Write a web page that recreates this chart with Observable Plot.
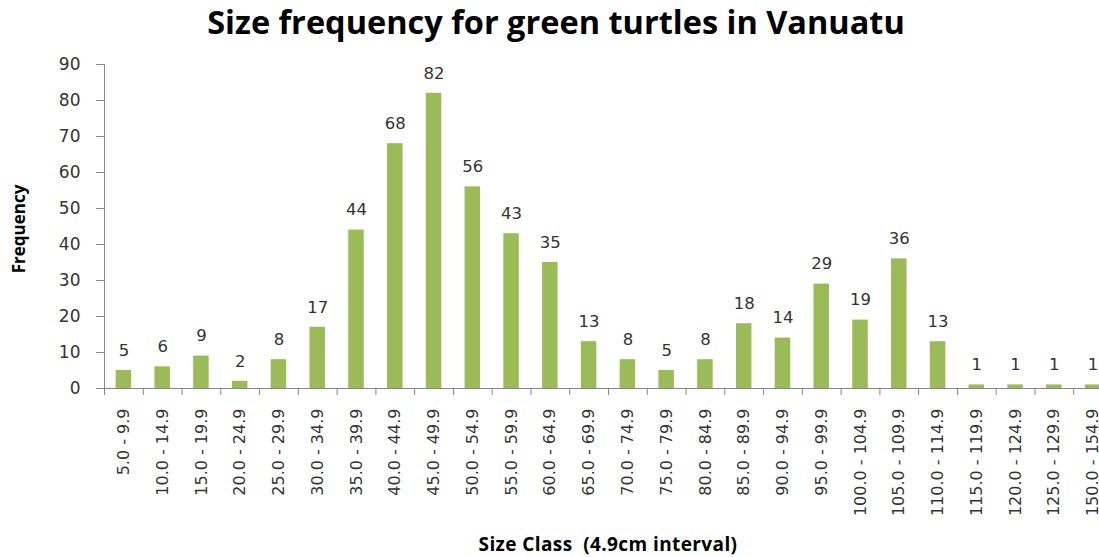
<!DOCTYPE html>
<html>
<head>
<meta charset="utf-8">
<script src="https://cdn.jsdelivr.net/npm/d3@7"></script>
<script src="https://cdn.jsdelivr.net/npm/@observablehq/plot@0.6"></script>
<style>
  html, body { margin: 0; padding: 0; background: #fff; overflow: hidden; }
  #wrap { position: relative; width: 1099px; height: 557px; overflow: hidden; }
  #chart svg { max-width: none !important; width: 1117px; height: 557px; display: block; }
  #title { position: absolute; left: 556px; top: 6px; transform: translateX(-50%); line-height: 1;
    font-family: "Open Sans", sans-serif; font-weight: bold; font-size: 32.5px; color: #000; white-space: nowrap; }
  #ytitle { position: absolute; left: 18px; top: 229px; transform: translate(-50%, -50%) rotate(-90deg);
    font-family: "Open Sans", sans-serif; font-weight: bold; font-size: 17px; color: #000; white-space: nowrap; line-height: 1; }
  #xtitle { position: absolute; left: 608px; top: 535px; transform: translateX(-50%); line-height: 1;
    font-family: "Open Sans", sans-serif; font-weight: bold; font-size: 19px; letter-spacing: 0.4px; color: #000; white-space: pre; }
</style>
</head>
<body>
<div id="wrap">
  <div id="chart"></div>
  <div id="title">Size frequency for green turtles in Vanuatu</div>
  <div id="ytitle">Frequency</div>
  <div id="xtitle">Size Class  (4.9cm interval)</div>
</div>
<script>
const categories = ["5.0 - 9.9","10.0 - 14.9","15.0 - 19.9","20.0 - 24.9","25.0 - 29.9","30.0 - 34.9",
  "35.0 - 39.9","40.0 - 44.9","45.0 - 49.9","50.0 - 54.9","55.0 - 59.9","60.0 - 64.9","65.0 - 69.9",
  "70.0 - 74.9","75.0 - 79.9","80.0 - 84.9","85.0 - 89.9","90.0 - 94.9","95.0 - 99.9","100.0 - 104.9",
  "105.0 - 109.9","110.0 - 114.9","115.0 - 119.9","120.0 - 124.9","125.0 - 129.9","150.0 - 154.9"];
const frequencies = [5,6,9,2,8,17,44,68,82,56,43,35,13,8,5,8,18,14,29,19,36,13,1,1,1,1];
const yTicks = [0,10,20,30,40,50,60,70,80,90];

const data = categories.map((c, i) => ({size: c, freq: frequencies[i]}));
const W = 1117;
const marginLeft = 104, marginRight = 5;
const step = (W - marginLeft - marginRight) / categories.length;
const axisColor = "#868686";
const textColor = "#333";

const chart = Plot.plot({
  width: W,
  height: 557,
  marginTop: 64,
  marginBottom: 169,
  marginLeft,
  marginRight,
  style: {fontFamily: "DejaVu Sans, sans-serif", color: textColor, background: "#fff"},
  x: {domain: categories, paddingInner: 0.6, paddingOuter: 0.3, round: false, label: null},
  y: {domain: [0, 90], label: null},
  marks: [
    Plot.barY(data, {x: "size", y: "freq", fill: "#9BBB59"}),
    Plot.text(data, {x: "size", y: "freq", text: d => String(d.freq), dy: -20,
      fontSize: 16.5, fill: textColor}),
    Plot.axisY({ticks: yTicks, tickSize: 8, tickPadding: 16, fontSize: 17,
      stroke: axisColor, fill: textColor, label: null}),
    Plot.axisX({tickSize: 7, dx: -step / 2, text: null, stroke: axisColor, label: null}),
    Plot.axisX({tickSize: 0, tickRotate: -90, tickPadding: 20, fontSize: 16,
      fill: textColor, label: null}),
    Plot.frame({anchor: "left", stroke: axisColor}),
    Plot.frame({anchor: "bottom", stroke: axisColor})
  ]
});
document.getElementById("chart").appendChild(chart);
</script>
</body>
</html>
